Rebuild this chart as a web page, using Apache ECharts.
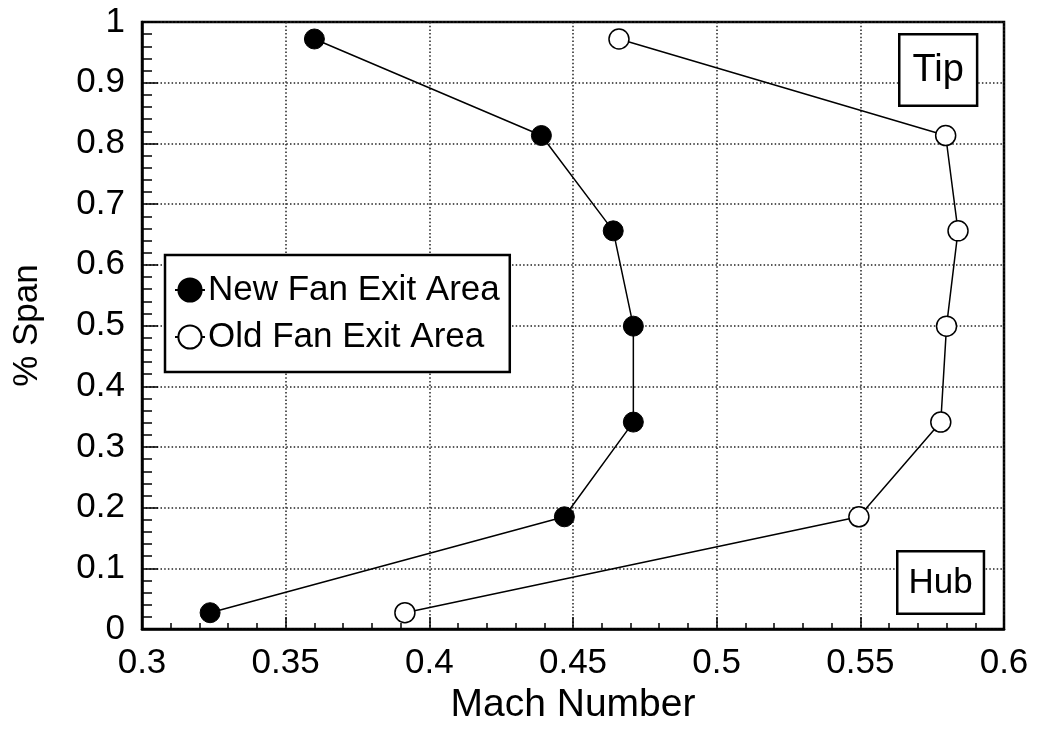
<!DOCTYPE html>
<html>
<head>
<meta charset="utf-8">
<script src="https://cdn.jsdelivr.net/npm/echarts@6/dist/echarts.min.js"></script>
<style>
  html, body { margin: 0; padding: 0; background: #fff; }
  #chart { width: 1037px; height: 730px; }
</style>
</head>
<body>
<div id="chart"></div>
<script>
// Span stations (fraction of blade span, hub to tip)
const spanStations = [0.027, 0.185, 0.341, 0.499, 0.656, 0.813, 0.972];
// Exit Mach number at each station
const newFanMach = [0.3237, 0.447, 0.471, 0.471, 0.464, 0.439, 0.360];
const oldFanMach = [0.3915, 0.5495, 0.578, 0.580, 0.584, 0.5797, 0.466];
const seriesNames = ['New Fan Exit Area', 'Old Fan Exit Area'];
const xTicks = { min: 0.3, max: 0.6, step: 0.05 };
const yTicks = { min: 0, max: 1, step: 0.1 };

const FONT = '"Liberation Sans", Arial, Helvetica, sans-serif';

const pairs = (xs, ys) => xs.map((x, i) => [x, ys[i]]);
const fmt = v => String(Math.round(v * 100) / 100);

const chart = echarts.init(document.getElementById('chart'), null, { renderer: 'canvas' });

const gridLine = { show: true, lineStyle: { color: '#222', width: 1.5, type: [1.5, 2.2] } };

chart.setOption({
  animation: false,
  backgroundColor: '#fff',
  grid: {
    left: 142, right: 33, top: 22, bottom: 99,
    show: true, borderColor: '#000', borderWidth: 2.5, backgroundColor: 'transparent'
  },
  xAxis: {
    type: 'value',
    min: xTicks.min, max: xTicks.max, interval: xTicks.step,
    name: 'Mach Number',
    nameLocation: 'middle',
    nameGap: 56,
    nameTextStyle: { fontFamily: FONT, fontSize: 39, color: '#000' },
    axisLine: { show: true, lineStyle: { color: '#000', width: 2.5 } },
    axisTick: { show: true, inside: true, length: 12, lineStyle: { color: '#000', width: 1.5 } },
    minorTick: { show: true, splitNumber: 5, length: 6, lineStyle: { color: '#000', width: 1.5 } },
    axisLabel: { fontFamily: FONT, fontSize: 35, color: '#000', margin: 17, formatter: fmt },
    splitLine: gridLine
  },
  yAxis: {
    type: 'value',
    min: yTicks.min, max: yTicks.max, interval: yTicks.step,
    name: '% Span',
    nameLocation: 'middle',
    nameGap: 97,
    nameTextStyle: { fontFamily: FONT, fontSize: 35, color: '#000' },
    axisLine: { show: true, lineStyle: { color: '#000', width: 2.5 } },
    axisTick: { show: true, inside: true, length: 16, lineStyle: { color: '#000', width: 1.5 } },
    minorTick: { show: true, splitNumber: 5, length: 10, lineStyle: { color: '#000', width: 1.5 } },
    axisLabel: { fontFamily: FONT, fontSize: 35, color: '#000', margin: 17, formatter: fmt },
    splitLine: gridLine
  },
  legend: {
    orient: 'vertical',
    left: 165, top: 255,
    selectedMode: false,
    backgroundColor: '#fff',
    borderColor: '#000',
    borderWidth: 2.5,
    borderRadius: 0,
    padding: [17, 10, 17, 9],
    itemWidth: 30,
    itemHeight: 29,
    itemGap: 11,
    textStyle: { fontFamily: FONT, fontSize: 35, color: '#000', lineHeight: 36, padding: [0, 0, 0, -2] },
    data: seriesNames
  },
  graphic: [
    {
      type: 'text', left: 898, top: 33, z: 100,
      style: {
        text: 'Tip', font: '38px ' + FONT, fill: '#000',
        backgroundColor: '#fff', borderColor: '#000', borderWidth: 2.5,
        padding: [16, 12, 15, 12]
      }
    },
    {
      type: 'text', left: 896, top: 550, z: 100,
      style: {
        text: 'Hub', font: '35px ' + FONT, fill: '#000',
        backgroundColor: '#fff', borderColor: '#000', borderWidth: 2.5,
        padding: [13, 10, 12, 10]
      }
    }
  ],
  series: [
    {
      name: seriesNames[0],
      type: 'line',
      data: pairs(newFanMach, spanStations),
      symbol: 'circle',
      symbolSize: 20,
      lineStyle: { color: '#000', width: 1.5 },
      itemStyle: { color: '#000', borderColor: '#000', borderWidth: 1 },
      z: 3
    },
    {
      name: seriesNames[1],
      type: 'line',
      data: pairs(oldFanMach, spanStations),
      symbol: 'circle',
      symbolSize: 20,
      lineStyle: { color: '#000', width: 1.5 },
      itemStyle: { color: '#fff', borderColor: '#000', borderWidth: 1.5 },
      z: 3
    }
  ]
});
</script>
</body>
</html>
